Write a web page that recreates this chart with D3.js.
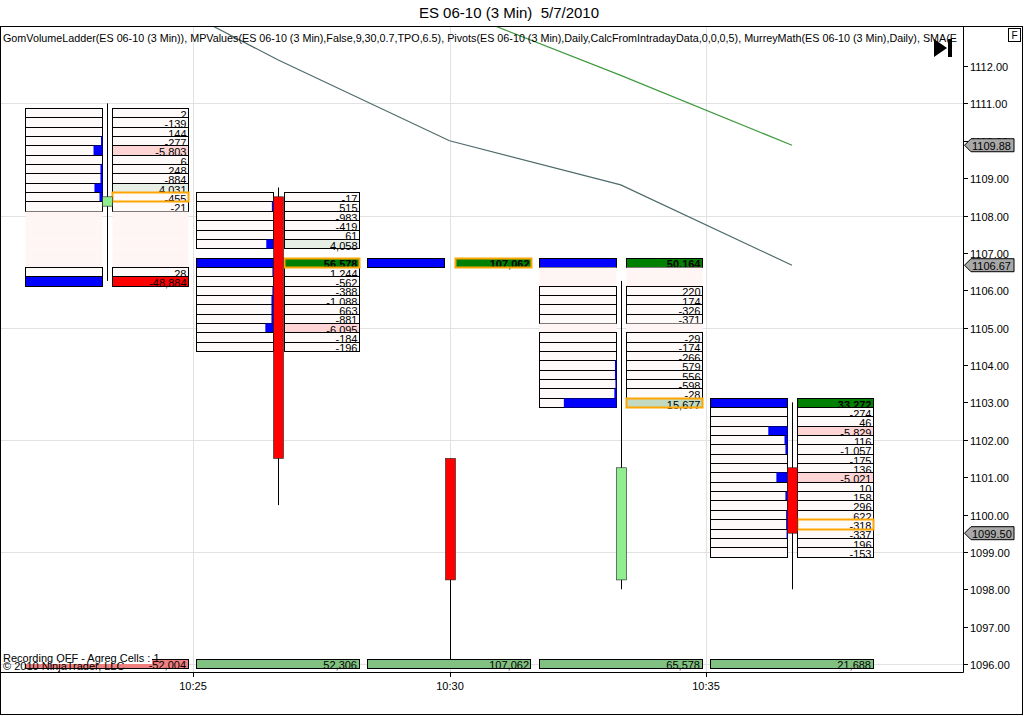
<!DOCTYPE html>
<html>
<head>
<meta charset="utf-8">
<script src="https://cdn.jsdelivr.net/npm/d3@7"></script>
<style>
html, body { margin: 0; padding: 0; background: #fff; }
svg { display: block; font-family: "Liberation Sans", Arial, sans-serif; }
</style>
</head>
<body>
<svg id="chart" width="1024" height="716"></svg>
<script>
// ---- bars (3 min) ----
var barTimes = ["10:24", "10:27", "10:30", "10:33", "10:36"];
var opens  = [1108.25, 1108.5, 1101.5, 1098.25, 1101.25];
var highs  = [1111.0, 1108.75, 1101.5, 1106.25, 1103.0];
var lows   = [1106.25, 1100.25, 1096.0, 1098.0, 1098.0];
var closes = [1108.5, 1101.5, 1098.25, 1101.25, 1099.5];
var smaValues   = [1114.54, 1112.16, 1110.0, 1108.82, 1106.67];
var pivotValues = [null, null, 1113.55, 1111.75, 1109.88];
var barVolumes  = [-52004, 52306, 107062, 65578, 21688];

// ---- volume ladder: rows from top price down in 0.25 steps, null = empty row ----
var ladderTop = [1110.75, 1108.5, 1106.75, 1106.75, 1103.0];
var ladderDelta1 = [2, -139, 144, -277, -5803, 6, 248, -884, 4031, -455, -21, null, null, null, null, null, null, 28, -48884];
var ladderDelta2 = [-17, 515, -983, -419, 61, 4058, null, 56578, 1244, -562, -388, -1088, 663, -881, -6095, -184, -196];
var ladderDelta3 = [107062];
var ladderDelta4 = [50164, null, null, 220, 174, -326, -371, null, -29, -174, -266, 579, 556, -598, -28, 15677];
var ladderDelta5 = [33272, -274, 46, -5829, 116, -1057, -175, 136, -5021, 10, 158, 296, 622, -318, -337, 196, -153];
var ladderVol1 = [0, 0, 0, 950, 5700, 0, 1300, 1300, 5100, 1900, 0, null, null, null, null, null, null, 0, 48884];
var ladderVol2 = [0, 1200, 0, 0, 0, 5300, null, 56578, 800, 0, 800, 1500, 1500, 1500, 6000, 0, 0];
var ladderVol3 = [107062];
var ladderVol4 = [50164, null, null, 0, 0, 0, 0, null, 0, 0, 0, 1000, 1000, 700, 1400, 34300];
var ladderVol5 = [33272, 0, 0, 8300, 1300, 900, 0, 0, 4800, 0, 900, 0, 600, 600, 400, 0, 0];
var ladderMark = [1108.5, 1106.75, 1106.75, 1103.0, 1099.75];
var ladderShadeGaps = [true, false, true, true, true];

// ---- axes ----
var priceTicks = d3.range(1096, 1113, 1);
var gridPrices = [1096, 1099, 1102, 1105, 1108, 1111];
var timeLabels = ["10:25", "10:30", "10:35"];
var timeLabelPos = [0.5, 2, 3.5];
var markerValues = [1109.88, 1106.67, 1099.50];

var titleText = "ES 06-10 (3 Min)  5/7/2010";
var legendText = "GomVolumeLadder(ES 06-10 (3 Min)), MPValues(ES 06-10 (3 Min),False,9,30,0.7,TPO,6.5), Pivots(ES 06-10 (3 Min),Daily,CalcFromIntradayData,0,0,0,5), MurreyMath(ES 06-10 (3 Min),Daily), SMA(E";

var ladderDeltas = [ladderDelta1, ladderDelta2, ladderDelta3, ladderDelta4, ladderDelta5];
var ladderVols = [ladderVol1, ladderVol2, ladderVol3, ladderVol4, ladderVol5];

var fmt = d3.formatLocale({decimal: ".", thousands: ",", grouping: [3], currency: ["$", ""], minus: "-"}).format(",");
var fmt2 = d3.format(".2f");

var plotL = 1, plotR = 963, plotT = 27, plotB = 672;

var x = d3.scaleLinear().domain([0, 4]).range([107, 792]);
var y = d3.scaleLinear().domain([1096, 1112]).range([664, 66]);
var step = x(1) - x(0);
var rowH = y(0) - y(0.25);

var svg = d3.select("#chart");

// frame
svg.append("rect").attr("x", 0.5).attr("y", 26.5).attr("width", 1022).attr("height", 688)
    .attr("fill", "#fff").attr("stroke", "#000");

// title
svg.append("text").attr("x", 509).attr("y", 18).attr("text-anchor", "middle")
    .attr("font-size", 15).style("white-space", "pre").text(titleText);

svg.append("defs").append("clipPath").attr("id", "plotclip")
    .append("rect").attr("x", plotL).attr("y", plotT).attr("width", plotR - plotL).attr("height", plotB - plotT);

var plot = svg.append("g").attr("clip-path", "url(#plotclip)");

// grid
plot.append("g").selectAll("line").data(gridPrices).enter().append("line")
    .attr("x1", plotL).attr("x2", plotR)
    .attr("y1", function (d) { return Math.round(y(d)) + 0.5; })
    .attr("y2", function (d) { return Math.round(y(d)) + 0.5; })
    .attr("stroke", "#e2e2e2");
plot.append("g").selectAll("line").data(timeLabelPos).enter().append("line")
    .attr("x1", function (d) { return Math.round(x(d)) + 0.5; })
    .attr("x2", function (d) { return Math.round(x(d)) + 0.5; })
    .attr("y1", plotT).attr("y2", plotB)
    .attr("stroke", "#e2e2e2");

// indicator legend (squeezed like the original narrow font)
svg.append("text").attr("x", 3).attr("y", 42).attr("font-size", 11)
    .attr("textLength", 954).attr("lengthAdjust", "spacingAndGlyphs")
    .text(legendText);

// SMA and pivot lines
var idx = d3.range(barTimes.length);
plot.append("path").datum(idx)
    .attr("d", d3.line().x(function (i) { return x(i); }).y(function (i) { return y(smaValues[i]); }))
    .attr("fill", "none").attr("stroke", "#4f6b6b").attr("stroke-width", 1.2);
plot.append("path").datum(idx)
    .attr("d", d3.line().defined(function (i) { return pivotValues[i] != null; })
        .x(function (i) { return x(i); }).y(function (i) { return y(pivotValues[i]); }))
    .attr("fill", "none").attr("stroke", "#3f9a3f").attr("stroke-width", 1.2);

function deltaFill(v) {
    if (v >= 20000) return "#008000";
    if (v <= -20000) return "#ff0000";
    if (v <= -5000) return "#ffd4d4";
    if (v >= 10000) return "#c2dac2";
    if (v >= 4000) return "#e6eee6";
    return "#fffafa";
}

// ladders
ladderDeltas.forEach(function (deltas, b) {
    var cx = x(b);
    var lx0 = Math.round(cx - 0.479 * step) + 0.5, lx1 = Math.round(cx - 0.03 * step) + 0.5;
    var rx0 = Math.round(cx + 0.032 * step) + 0.5, rx1 = Math.round(cx + 0.473 * step) + 0.5;
    var vols = ladderVols[b];
    var vmax = d3.max(vols);
    var w = d3.scaleLinear().domain([0, vmax]).range([0, lx1 - lx0]);
    var rows = deltas.map(function (d, i) {
        return {price: ladderTop[b] - i * 0.25, delta: d, vol: vols[i]};
    });
    var g = plot.append("g").attr("class", "ladder");
    var cells = g.selectAll("g").data(rows).enter().append("g");

    cells.each(function (r) {
        var sel = d3.select(this);
        var top = y(r.price + 0.125), bot = y(r.price - 0.125);
        var yt = Math.round(top) + 0.5, h = Math.round(bot) - Math.round(top);
        if (r.delta == null) {
            if (ladderShadeGaps[b]) {
                sel.append("rect").attr("x", lx0).attr("y", yt).attr("width", lx1 - lx0).attr("height", h)
                    .attr("fill", "#fff5f5");
                sel.append("rect").attr("x", rx0).attr("y", yt).attr("width", rx1 - rx0).attr("height", h)
                    .attr("fill", "#fff5f5");
            }
            return;
        }
        // volume side
        sel.append("rect").attr("x", lx0).attr("y", yt).attr("width", lx1 - lx0).attr("height", h)
            .attr("fill", "#fffafa").attr("stroke", "#000");
        if (r.vol > 0) {
            var bw = w(r.vol);
            sel.append("rect").attr("x", lx1 - bw).attr("y", yt).attr("width", bw).attr("height", h)
                .attr("fill", "#0000ff").attr("stroke", bw >= lx1 - lx0 ? "#000" : "none");
        }
        // delta side
        sel.append("rect").attr("x", rx0).attr("y", yt).attr("width", rx1 - rx0).attr("height", h)
            .attr("fill", deltaFill(r.delta)).attr("stroke", "#000");
        sel.append("text").attr("x", rx1 - 2).attr("y", bot + 1.5)
            .attr("text-anchor", "end").attr("font-size", 11)
            .attr("font-weight", r.delta >= 20000 ? "bold" : "normal")
            .attr("fill", "#000").text(fmt(r.delta));
    });

    // highlighted level
    var mp = ladderMark[b];
    g.append("rect").attr("x", rx0).attr("y", Math.round(y(mp + 0.125)) + 0.5)
        .attr("width", rx1 - rx0).attr("height", Math.round(y(mp - 0.125)) - Math.round(y(mp + 0.125)))
        .attr("fill", "none").attr("stroke", "#ffa500").attr("stroke-width", 2);
});

// candles
var candles = plot.append("g").selectAll("g").data(idx).enter().append("g");
candles.append("line")
    .attr("x1", function (i) { return Math.round(x(i)) + 0.5; })
    .attr("x2", function (i) { return Math.round(x(i)) + 0.5; })
    .attr("y1", function (i) { return y(highs[i]); })
    .attr("y2", function (i) { return y(lows[i]); })
    .attr("stroke", "#000");
candles.append("rect")
    .attr("x", function (i) { return Math.round(x(i)) - 4.5; })
    .attr("width", 10)
    .attr("y", function (i) { return y(Math.max(opens[i], closes[i])); })
    .attr("height", function (i) { return Math.max(2, Math.abs(y(opens[i]) - y(closes[i]))); })
    .attr("fill", function (i) { return closes[i] >= opens[i] ? "#90ee90" : "#ff0000"; })
    .attr("stroke", "#202020").attr("stroke-width", 0.6);

// bar volume row
var vb = plot.append("g").selectAll("g").data(idx).enter().append("g");
vb.append("rect")
    .attr("x", function (i) { return Math.round(x(i) - 0.479 * step) + 0.5; })
    .attr("y", Math.round(y(1096.125)) + 0.5)
    .attr("width", Math.round(0.952 * step))
    .attr("height", Math.round(rowH))
    .attr("fill", function (i) { return barVolumes[i] < 0 ? "#f08080" : "#80c080"; })
    .attr("stroke", "#000");
vb.append("text")
    .attr("x", function (i) { return Math.round(x(i) + 0.473 * step) - 2; })
    .attr("y", y(1096.125) + rowH + 0.5)
    .attr("text-anchor", "end").attr("font-size", 11)
    .text(function (i) { return fmt(barVolumes[i]); });

// footer texts
svg.append("rect").attr("x", 2).attr("y", 651).attr("width", 150).attr("height", 13).attr("fill", "#fff");
svg.append("text").attr("x", 3).attr("y", 662).attr("font-size", 11).text("Recording OFF - Agreg Cells : 1");
svg.append("text").attr("x", 3).attr("y", 670).attr("font-size", 11).text("\u00a9 2010 NinjaTrader, LLC");

// plot borders
svg.append("line").attr("x1", plotR + 0.5).attr("x2", plotR + 0.5).attr("y1", plotT).attr("y2", plotB + 0.5).attr("stroke", "#000");
svg.append("line").attr("x1", 0).attr("x2", plotR + 0.5).attr("y1", plotB + 0.5).attr("y2", plotB + 0.5).attr("stroke", "#000");

// price axis
var pa = svg.append("g").selectAll("g").data(priceTicks).enter().append("g")
    .attr("transform", function (d) { return "translate(" + plotR + "," + Math.round(y(d)) + ")"; });
pa.append("line").attr("x1", 0).attr("x2", 5).attr("y1", 0.5).attr("y2", 0.5).attr("stroke", "#000");
pa.append("text").attr("x", 7).attr("y", 4.5).attr("font-size", 11).text(function (d) { return fmt2(d); });

// time axis
var ta = svg.append("g").selectAll("g").data(timeLabelPos).enter().append("g")
    .attr("transform", function (d) { return "translate(" + Math.round(x(d)) + "," + plotB + ")"; });
ta.append("line").attr("x1", 0.5).attr("x2", 0.5).attr("y1", 0).attr("y2", 5).attr("stroke", "#000");
ta.append("text").attr("y", 18).attr("text-anchor", "middle").attr("font-size", 11)
    .text(function (d, i) { return timeLabels[i]; });

// current value markers
var mk = svg.append("g").selectAll("g").data(markerValues).enter().append("g")
    .attr("transform", function (d) { return "translate(" + (plotR + 1) + "," + y(d) + ")"; });
mk.append("path").attr("d", "M0.5,0 L7,-6.5 L50,-6.5 L50,6.5 L7,6.5 Z")
    .attr("fill", "#a8a8a8").attr("stroke", "#000");
mk.append("text").attr("x", 8).attr("y", 4.5).attr("font-size", 11).text(function (d) { return fmt2(d); });

// play button and F box
svg.append("path").attr("d", "M934,39 L934,57 L947,48 Z").attr("fill", "#000");
svg.append("rect").attr("x", 948).attr("y", 39).attr("width", 4).attr("height", 18).attr("fill", "#000");
svg.append("rect").attr("x", 1008.5).attr("y", 28.5).attr("width", 12).attr("height", 13).attr("fill", "#fff").attr("stroke", "#000");
svg.append("text").attr("x", 1014.5).attr("y", 39).attr("text-anchor", "middle").attr("font-size", 10).text("F");
</script>
</body>
</html>
